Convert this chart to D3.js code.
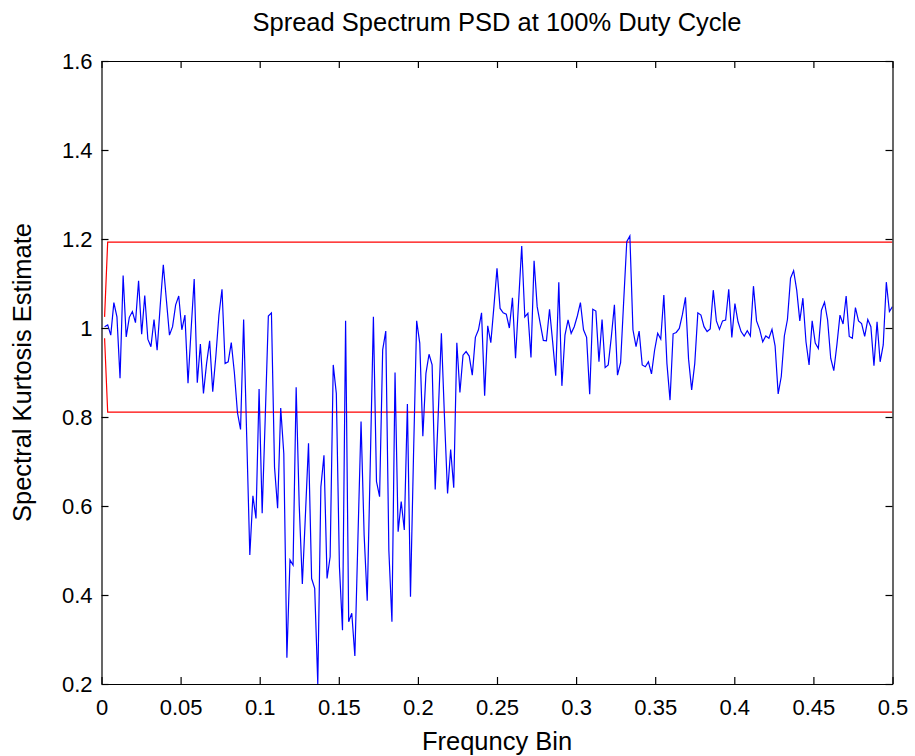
<!DOCTYPE html>
<html>
<head>
<meta charset="utf-8">
<script src="https://cdn.jsdelivr.net/npm/d3@7"></script>
<style>
  body { margin: 0; background: #fff; }
  svg { font-family: "Liberation Sans", Arial, Helvetica, sans-serif; }
  .axis path, .axis line { stroke: #000; }
  .axis text { font-size: 22px; fill: #000; }
  .label { font-size: 25.5px; fill: #000; }
</style>
</head>
<body>
<div id="chart"></div>
<script>
(function () {
  "use strict";

  const title = "Spread Spectrum PSD at 100% Duty Cycle";
  const xLabel = "Frequncy Bin";
  const yLabel = "Spectral Kurtosis Estimate";

  // spectral kurtosis estimate per bin, bins k = 1..256 at k/512
  const skValues = [
    1.003, 1.007, 0.984, 1.057, 1.025, 0.887, 1.118, 0.98, 1.024, 1.037,
    1.012, 1.106, 0.986, 1.073, 0.975, 0.958, 1.019, 0.95, 1.05, 1.142,
    1.063, 0.984, 1.003, 1.052, 1.072, 0.996, 1.029, 0.876, 0.996, 1.11,
    0.877, 0.964, 0.853, 0.92, 0.971, 0.857, 0.936, 1.029, 1.087, 0.92,
    0.924, 0.967, 0.9, 0.81, 0.772, 1.019, 0.755, 0.49, 0.623, 0.572,
    0.863, 0.584, 0.8, 1.027, 1.034, 0.687, 0.595, 0.82, 0.718, 0.259,
    0.479, 0.467, 0.867, 0.6, 0.425, 0.58, 0.741, 0.437, 0.415, 0.2,
    0.643, 0.714, 0.437, 0.486, 0.917, 0.853, 0.464, 0.321, 1.016, 0.34,
    0.359, 0.263, 0.53, 0.79, 0.535, 0.387, 0.7, 1.025, 0.655, 0.621,
    0.951, 0.993, 0.5, 0.34, 0.9, 0.542, 0.61, 0.546, 0.829, 0.396,
    0.72, 1.016, 0.966, 0.757, 0.898, 0.941, 0.917, 0.637, 0.81, 0.988,
    0.8, 0.628, 0.727, 0.641, 0.967, 0.855, 0.939, 0.947, 0.937, 0.894,
    0.979, 0.996, 1.034, 0.848, 1.005, 0.967, 1.048, 1.134, 1.044, 1.034,
    1.031, 1.0, 1.068, 0.932, 1.06, 1.184, 1.025, 1.033, 0.934, 1.151,
    1.048, 1.01, 0.972, 0.971, 1.042, 0.97, 0.893, 1.103, 0.87, 0.984,
    1.018, 0.988, 1.003, 1.027, 1.057, 0.996, 0.979, 0.851, 1.042, 1.038,
    0.924, 1.019, 0.911, 0.917, 0.98, 1.052, 0.894, 0.922, 1.06, 1.194,
    1.207, 0.996, 0.958, 0.993, 0.917, 0.913, 0.924, 0.897, 0.95, 0.988,
    0.975, 1.074, 0.92, 0.838, 0.987, 0.99, 0.999, 1.03, 1.069, 0.93,
    0.861, 0.92, 1.034, 1.029, 1.003, 0.992, 0.998, 1.085, 1.016, 0.997,
    1.016, 1.018, 1.087, 0.979, 1.055, 1.014, 0.992, 0.982, 0.994, 0.982,
    1.094, 1.016, 0.997, 0.969, 0.982, 0.977, 0.997, 0.96, 0.852, 0.891,
    0.982, 1.019, 1.112, 1.129, 1.085, 1.016, 1.067, 0.969, 0.917, 1.016,
    0.966, 0.954, 1.04, 1.058, 1.018, 0.932, 0.904, 0.962, 1.029, 1.009,
    1.072, 0.981, 0.977, 1.046, 1.016, 1.01, 0.981, 1.019, 1.003, 0.915,
    1.014, 0.924, 0.962, 1.103, 1.037, 1.048
  ];
  const binCount = 512;

  // detection thresholds (red)
  const thresholdX = [1 / 512, 2 / 512, 0.5];
  const upperThreshold = [1.025, 1.193, 1.193];
  const lowerThreshold = [0.977, 0.811, 0.811];

  const xTicks = [0, 0.05, 0.1, 0.15, 0.2, 0.25, 0.3, 0.35, 0.4, 0.45, 0.5];
  const xTickLabels = ["0", "0.05", "0.1", "0.15", "0.2", "0.25", "0.3", "0.35", "0.4", "0.45", "0.5"];
  const yTicks = [0.2, 0.4, 0.6, 0.8, 1, 1.2, 1.4, 1.6];
  const yTickLabels = ["0.2", "0.4", "0.6", "0.8", "1", "1.2", "1.4", "1.6"];

  const width = 915;
  const height = 756;
  const margin = { top: 61, right: 22.5, bottom: 72, left: 101.5 };

  const svg = d3
    .select("#chart")
    .append("svg")
    .attr("width", width)
    .attr("height", height);

  const x = d3.scaleLinear().domain([0, 0.5]).range([margin.left, width - margin.right]);
  const y = d3.scaleLinear().domain([0.2, 1.6]).range([height - margin.bottom, margin.top]);

  svg
    .append("clipPath")
    .attr("id", "plotClip")
    .append("rect")
    .attr("x", x(0))
    .attr("y", y(1.6))
    .attr("width", x(0.5) - x(0))
    .attr("height", y(0.2) - y(1.6));

  const skData = skValues.map((v, i) => ({ f: (i + 1) / binCount, v: v }));
  const line = d3
    .line()
    .x((d) => x(d.f))
    .y((d) => y(d.v));

  const plot = svg.append("g").attr("clip-path", "url(#plotClip)");

  // thresholds
  [upperThreshold, lowerThreshold].forEach((arr) => {
    plot
      .append("path")
      .datum(thresholdX.map((f, i) => ({ f: f, v: arr[i] })))
      .attr("d", line)
      .attr("fill", "none")
      .attr("stroke", "#ff0000")
      .attr("stroke-width", 1.2);
  });

  plot
    .append("path")
    .datum(skData)
    .attr("d", line)
    .attr("fill", "none")
    .attr("stroke", "#0000ff")
    .attr("stroke-width", 1.2);

  // axes, MATLAB style: inward ticks on all four sides
  const tick = 7;
  const fmtX = (d, i) => xTickLabels[i];
  const fmtY = (d, i) => yTickLabels[i];

  svg
    .append("g")
    .attr("class", "axis")
    .attr("transform", `translate(0,${y(0.2)})`)
    .call(d3.axisBottom(x).tickValues(xTicks).tickFormat(fmtX).tickSizeInner(-tick).tickSizeOuter(0).tickPadding(15));

  svg
    .append("g")
    .attr("class", "axis")
    .attr("transform", `translate(0,${y(1.6)})`)
    .call(d3.axisTop(x).tickValues(xTicks).tickFormat("").tickSizeInner(-tick).tickSizeOuter(0));

  svg
    .append("g")
    .attr("class", "axis")
    .attr("transform", `translate(${x(0)},0)`)
    .call(d3.axisLeft(y).tickValues(yTicks).tickFormat(fmtY).tickSizeInner(-tick).tickSizeOuter(0).tickPadding(9));

  svg
    .append("g")
    .attr("class", "axis")
    .attr("transform", `translate(${x(0.5)},0)`)
    .call(d3.axisRight(y).tickValues(yTicks).tickFormat("").tickSizeInner(-tick).tickSizeOuter(0));

  svg.selectAll(".axis path, .axis line").attr("stroke-width", 1.2);

  // labels
  svg
    .append("text")
    .attr("class", "label")
    .attr("x", (x(0) + x(0.5)) / 2)
    .attr("y", 31)
    .attr("text-anchor", "middle")
    .text(title);

  svg
    .append("text")
    .attr("class", "label")
    .attr("x", (x(0) + x(0.5)) / 2)
    .attr("y", 750)
    .attr("text-anchor", "middle")
    .text(xLabel);

  svg
    .append("text")
    .attr("class", "label")
    .attr("transform", `translate(31,${(y(0.2) + y(1.6)) / 2}) rotate(-90)`)
    .attr("text-anchor", "middle")
    .text(yLabel);
})();
</script>
</body>
</html>
